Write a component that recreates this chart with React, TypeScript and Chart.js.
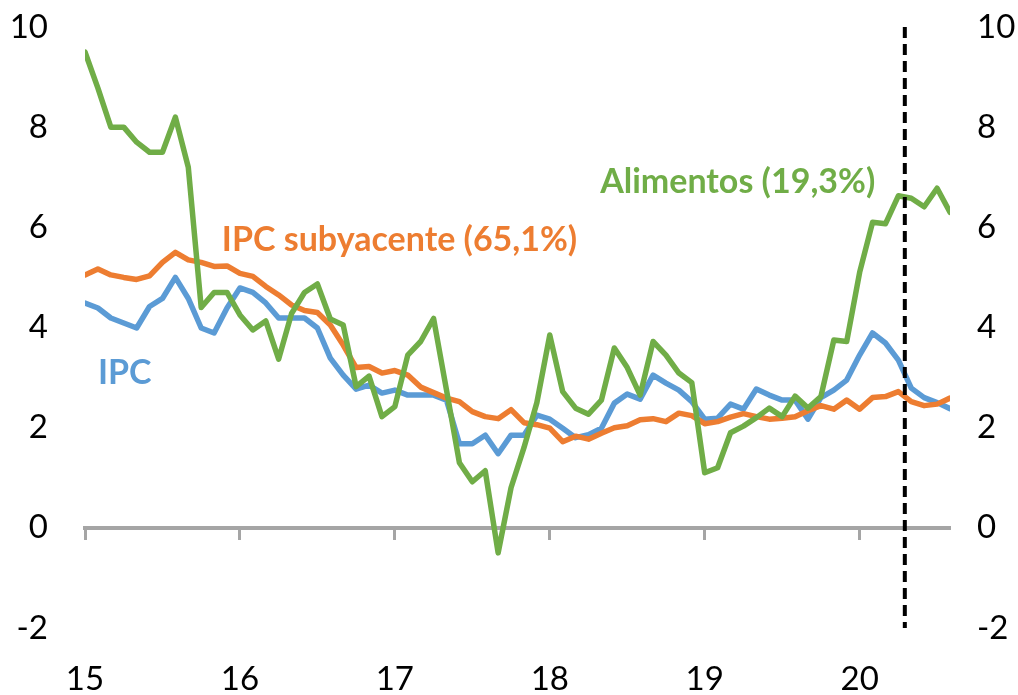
import React, { useEffect, useRef } from "react";
import { Chart, registerables } from "chart.js";

Chart.register(...registerables);

// Tick labels of the time axis (one per January, 2015..2020)
const yearLabels = ["15", "16", "17", "18", "19", "20"];
const monthsPerYear = 12;
const yTickValues = [-2, 0, 2, 4, 6, 8, 10];

// Monthly series, Jan-2015 .. Aug-2020 (% y/y)
const ipc = [
  4.49, 4.39, 4.19, 4.09, 3.99, 4.42, 4.58, 5.0, 4.58, 3.99, 3.89, 4.39,
  4.79, 4.7, 4.49, 4.19, 4.19, 4.19, 3.99, 3.39, 3.05, 2.77, 2.85, 2.69,
  2.75, 2.65, 2.65, 2.65, 2.55, 1.68, 1.68, 1.85, 1.48, 1.85, 1.85, 2.25,
  2.17, 1.99, 1.8, 1.86, 1.99, 2.49, 2.67, 2.57, 3.05, 2.89, 2.75, 2.52,
  2.17, 2.19, 2.47, 2.37, 2.77, 2.65, 2.55, 2.55, 2.17, 2.6, 2.75, 2.95,
  3.45, 3.89, 3.69, 3.35, 2.79, 2.6, 2.5, 2.38,
];

const subyacente = [
  5.05, 5.17, 5.05, 5.0, 4.96, 5.03, 5.3, 5.5, 5.35, 5.3, 5.22, 5.23,
  5.08, 5.02, 4.82, 4.65, 4.45, 4.34, 4.3, 4.05, 3.65, 3.2, 3.22, 3.09,
  3.14, 3.05, 2.81, 2.7, 2.59, 2.52, 2.32, 2.22, 2.18, 2.36, 2.1, 2.06,
  1.99, 1.72, 1.83, 1.77, 1.89, 2.0, 2.04, 2.16, 2.18, 2.12, 2.29, 2.24,
  2.08, 2.12, 2.21, 2.28, 2.22, 2.17, 2.19, 2.22, 2.34, 2.44, 2.37, 2.55,
  2.37, 2.6, 2.62, 2.72, 2.52, 2.44, 2.47, 2.59,
];

const alimentos = [
  9.5, 8.78, 8.0, 8.0, 7.7, 7.5, 7.5, 8.2, 7.2, 4.4, 4.7, 4.7,
  4.25, 3.95, 4.13, 3.37, 4.28, 4.7, 4.87, 4.17, 4.05, 2.82, 3.03, 2.22,
  2.42, 3.45, 3.72, 4.18, 2.75, 1.3, 0.92, 1.14, -0.5, 0.8, 1.6, 2.5,
  3.85, 2.72, 2.39, 2.27, 2.55, 3.59, 3.2, 2.65, 3.72, 3.45, 3.09, 2.9,
  1.1, 1.2, 1.9, 2.03, 2.2, 2.39, 2.22, 2.63, 2.39, 2.62, 3.75, 3.72,
  5.1, 6.1, 6.07, 6.63, 6.58, 6.41, 6.78, 6.3,
];

// Vertical dashed marker (months since Jan-2015) and its vertical span
const markerMonth = 63.5;
const markerSpan = [10, -2];

const BLUE = "#5B9BD5";
const ORANGE = "#ED7D31";
const GREEN = "#70AD47";
const AXIS_GREY = "#A5A5A5";

const seriesLabels = [
  { text: "IPC", color: BLUE, x: 1.0, y: 3.1 },
  { text: "IPC subyacente (65,1%)", color: ORANGE, x: 10.6, y: 5.75 },
  { text: "Alimentos (19,3%)", color: GREEN, x: 39.9, y: 6.9 },
];

const FONT_FAMILY = "Lato, 'Open Sans', sans-serif";

const toPoints = (arr: number[]) => arr.map((v, i) => ({ x: i, y: v }));

const yearTicks = yearLabels.map((_, i) => i * monthsPerYear);
const lastMonth = ipc.length - 1;

const labelPlugin = {
  id: "seriesLabels",
  afterDatasetsDraw(chart: any) {
    const { ctx } = chart;
    const xs = chart.scales.x;
    const ys = chart.scales.y;
    ctx.save();
    ctx.font = `bold 34px ${FONT_FAMILY}`;
    ctx.textAlign = "left";
    ctx.textBaseline = "middle";
    for (const a of seriesLabels) {
      ctx.fillStyle = a.color;
      ctx.fillText(a.text, xs.getPixelForValue(a.x), ys.getPixelForValue(a.y));
    }
    ctx.restore();
  },
};

export default function App() {
  const canvasRef = useRef<HTMLCanvasElement | null>(null);

  useEffect(() => {
    if (!canvasRef.current) return;
    const tickFont = { family: FONT_FAMILY, size: 33 };
    const lineStyle = {
      borderWidth: 5.5,
      pointRadius: 0,
      tension: 0,
      fill: false,
      borderJoinStyle: "round" as const,
      borderCapStyle: "round" as const,
    };
    const setYearTicks = (s: any) => {
      s.ticks = yearTicks.map((v) => ({ value: v }));
    };
    const setValueTicks = (s: any) => {
      s.ticks = yTickValues.map((v) => ({ value: v }));
    };
    const chart = new Chart(canvasRef.current, {
      type: "line",
      data: {
        datasets: [
          {
            label: "marker",
            data: markerSpan.map((v) => ({ x: markerMonth, y: v })),
            borderColor: "#000000",
            borderWidth: 4,
            borderDash: [11, 6],
            pointRadius: 0,
            borderCapStyle: "butt",
            clip: false as any,
          },
          { label: "Alimentos (19,3%)", data: toPoints(alimentos), borderColor: GREEN, ...lineStyle },
          { label: "IPC subyacente (65,1%)", data: toPoints(subyacente), borderColor: ORANGE, ...lineStyle },
          { label: "IPC", data: toPoints(ipc), borderColor: BLUE, ...lineStyle },
        ],
      },
      options: {
        animation: false,
        responsive: true,
        maintainAspectRatio: false,
        layout: { padding: { top: 27, left: 0, right: 0, bottom: 0 } },
        plugins: { legend: { display: false }, tooltip: { enabled: false } },
        scales: {
          x: {
            type: "linear",
            position: "bottom",
            min: 0,
            max: lastMonth,
            afterBuildTicks: setYearTicks,
            afterFit: (s: any) => {
              s.height = 67;
            },
            ticks: {
              callback: (v: any) => yearLabels[Math.round(Number(v) / monthsPerYear)],
              font: tickFont,
              color: "#000000",
              padding: 0,
              maxRotation: 0,
              autoSkip: false,
            },
            grid: { display: false, drawTicks: true, tickLength: 32 },
            border: { display: false },
          },
          x0: {
            type: "linear",
            position: { y: 0 } as any,
            display: true,
            min: 0,
            max: lastMonth,
            afterBuildTicks: setYearTicks,
            ticks: { display: false },
            grid: {
              display: true,
              drawOnChartArea: false,
              drawTicks: true,
              tickLength: 10,
              tickColor: AXIS_GREY,
              tickWidth: 3,
            },
            border: { display: true, color: AXIS_GREY, width: 4 },
          },
          y: {
            position: "left",
            min: yTickValues[0],
            max: yTickValues[yTickValues.length - 1],
            afterBuildTicks: setValueTicks,
            afterFit: (s: any) => {
              s.width = 85;
            },
            ticks: { font: tickFont, color: "#000000", padding: 0 },
            grid: { display: false, drawTicks: true, tickLength: 37 },
            border: { display: false },
          },
          y2: {
            position: "right",
            min: yTickValues[0],
            max: yTickValues[yTickValues.length - 1],
            afterBuildTicks: setValueTicks,
            afterFit: (s: any) => {
              s.width = 68;
            },
            ticks: { font: tickFont, color: "#000000", padding: 0 },
            grid: { display: false, drawTicks: true, tickLength: 27 },
            border: { display: false },
          },
        },
      } as any,
      plugins: [labelPlugin],
    });
    return () => chart.destroy();
  }, []);

  return (
    <div
      style={{
        position: "absolute",
        left: 0,
        top: 0,
        width: 1018,
        height: 695,
        background: "#ffffff",
      }}
    >
      <canvas ref={canvasRef} />
    </div>
  );
}
